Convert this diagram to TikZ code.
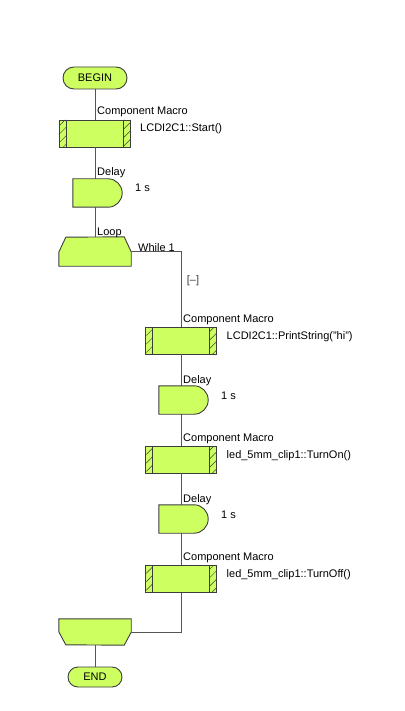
\documentclass[tikz,border=0pt]{standalone}
\usepackage{fontspec}
\setmainfont{Liberation Sans}
\usetikzlibrary{patterns.meta}

\definecolor{blockfill}{RGB}{206,255,96}
\definecolor{blockedge}{RGB}{60,60,60}
\definecolor{wire}{RGB}{85,85,85}

\begin{document}
\begin{tikzpicture}[x=1pt, y=-1pt,
  txt/.style={font=\fontsize{11}{13}\selectfont, inner sep=0pt, anchor=base west},
  term/.style={draw=blockedge, fill=blockfill, line width=0.9pt,
               rounded corners=11pt, minimum width=64pt, minimum height=22pt,
               inner sep=0pt, font=\fontsize{11}{13}\selectfont},
  cmbox/.style={draw=blockedge, fill=blockfill, line width=0.9pt,
                minimum width=71pt, minimum height=27pt, inner sep=0pt,
                path picture={
                  \fill[pattern={Lines[angle=45,distance=6pt,line width=0.5pt]},
                        pattern color=blockedge]
                    (path picture bounding box.north west) rectangle
                    ([xshift=7pt]path picture bounding box.south west)
                    ([xshift=-7pt]path picture bounding box.north east) rectangle
                    (path picture bounding box.south east);
                  \draw[blockedge, line width=0.9pt]
                    ([xshift=7pt]path picture bounding box.north west) --
                    ([xshift=7pt]path picture bounding box.south west)
                    ([xshift=-7pt]path picture bounding box.north east) --
                    ([xshift=-7pt]path picture bounding box.south east);
                }},
  dlbox/.style={minimum width=49pt, minimum height=28pt, inner sep=0pt},
  lpbox/.style={minimum width=72pt, inner sep=0pt},
  blk/.style={draw=blockedge, fill=blockfill, line width=0.9pt},
  flow/.style={draw=wire, line width=0.8pt},
]
\useasboundingbox (0,0) rectangle (404,711);

%% ---- Column spacing
\def\ca{95}   % main line
\def\cb{181}  % loop body

%% ======== MAIN LINE ========
\node[term] (begin) at (\ca,78) {BEGIN};

\node[cmbox] (cm1) at (\ca,133.5) {};
\node[txt] (cm1head) at (\ca+2,115) {Component Macro};
\node[txt] (cm1call) at (140,132) {LCDI2C1::Start()};

\node[dlbox] (dl1) at (\ca+2.5,193) {};
\node[txt] (dl1head) at (\ca+2,176) {Delay};
\node[txt] (dl1time) at (135,192) {1 s};

% loop top
\node[lpbox, minimum height=29pt] (lp1) at (\ca,251.5) {};
\draw[blk] (lp1.south west) -- ++(0,-14) -- ++(7,-15) --
  ([xshift=-7pt]lp1.north east) -- ++(7,15) -- (lp1.south east) -- cycle;
\node[txt] (lp1head) at (\ca+2,235) {Loop};
\node[txt] (lp1cond) at (138,251) {While 1};
\node[txt, anchor=center, text=blockedge] (fold) at (193,281) {[–]};

%% ======== LOOP BODY ========
\node[cmbox] (cm2) at (\cb,340.5) {};
\node[txt] (cm2head) at (\cb+2,322) {Component Macro};
\node[txt] (cm2call) at (226.5,339) {LCDI2C1::PrintString("hi")};

\node[dlbox] (dl2) at (\cb+2.5,400) {};
\node[txt] (dl2head) at (\cb+2,383) {Delay};
\node[txt] (dl2time) at (221,399) {1 s};

\node[cmbox] (cm3) at (\cb,459.5) {};
\node[txt] (cm3head) at (\cb+2,441) {Component Macro};
\node[txt] (cm3call) at (226.5,458) {led\_5mm\_clip1::TurnOn()};

\node[dlbox] (dl3) at (\cb+2.5,519) {};
\node[txt] (dl3head) at (\cb+2,502) {Delay};
\node[txt] (dl3time) at (221,518) {1 s};

\node[cmbox] (cm4) at (\cb,579) {};
\node[txt] (cm4head) at (\cb+2,560) {Component Macro};
\node[txt] (cm4call) at (226.5,577) {led\_5mm\_clip1::TurnOff()};

%% ---- delay shapes
\foreach \d in {dl1,dl2,dl3}
  \draw[blk] (\d.north west) -- ([xshift=-14pt]\d.north east)
    .. controls +(7.73,0) and +(0,-7.73) .. (\d.east)
    .. controls +(0,7.73) and +(7.73,0) .. ([xshift=-14pt]\d.south east)
    -- (\d.south west) -- cycle;

%% ======== LOOP END ========
\node[lpbox, minimum height=26pt] (lp2) at (\ca,632) {};
\draw[blk] (lp2.north west) -- ++(0,13) -- ++(7,13) --
  ([xshift=-7pt]lp2.south east) -- ++(7,-13) -- (lp2.north east) -- cycle;

\node[term, minimum width=54pt, minimum height=20pt, rounded corners=10pt]
  (end) at (\ca,677) {END};

%% ---- connectors
\draw[flow] (begin) -- (cm1);
\draw[flow] (cm1.south) -- (cm1.south |- dl1.north);
\draw[flow] (dl1.south -| lp1) -- (lp1.north);
\draw[flow] (lp1.east) -- (lp1.east -| cm2) -- (cm2.north);
\draw[flow] (cm2.south) -- (cm2.south |- dl2.north);
\draw[flow] (dl2.south -| cm3) -- (cm3.north);
\draw[flow] (cm3.south) -- (cm3.south |- dl3.north);
\draw[flow] (dl3.south -| cm4) -- (cm4.north);
\draw[flow] (cm4.south) -- (cm4.south |- lp2.east) -- (lp2.east);
\draw[flow] (lp2) -- (end);

\end{tikzpicture}
\end{document}
